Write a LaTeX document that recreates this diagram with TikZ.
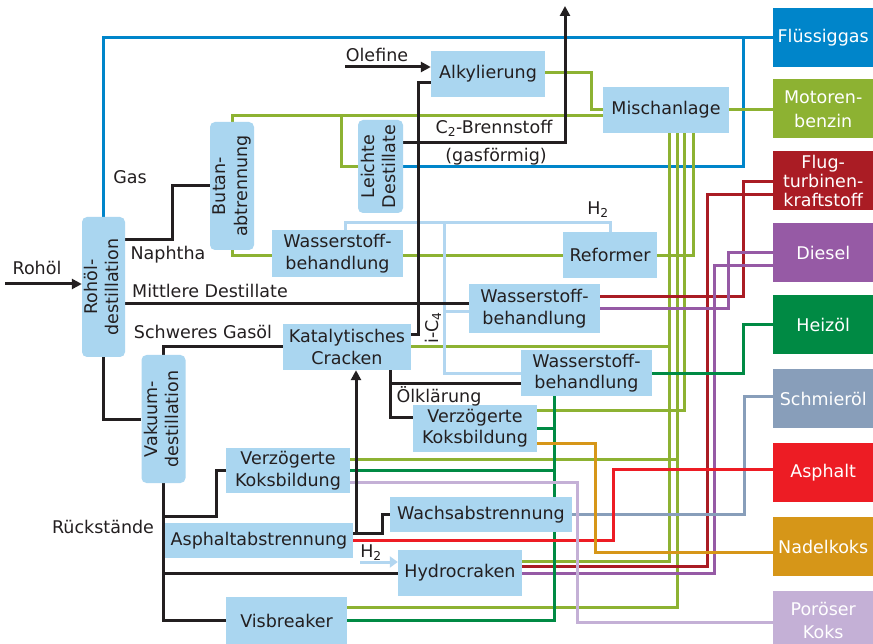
\documentclass[tikz,border=0pt]{standalone}
\usepackage{fontspec}
\setmainfont{DejaVu Sans}
\usetikzlibrary{arrows.meta,backgrounds}

\definecolor{procfill}{RGB}{170,214,240}
\definecolor{hydrogen}{RGB}{178,214,240}
\definecolor{ink}{RGB}{35,31,32}
\definecolor{cLPG}{RGB}{0,133,202}
\definecolor{cPetrol}{RGB}{141,178,50}
\definecolor{cJet}{RGB}{170,28,36}
\definecolor{cDiesel}{RGB}{150,90,165}
\definecolor{cFuelOil}{RGB}{0,138,68}
\definecolor{cLube}{RGB}{136,158,186}
\definecolor{cAsphalt}{RGB}{237,28,36}
\definecolor{cNeedle}{RGB}{214,150,24}
\definecolor{cPorous}{RGB}{196,176,214}

% two-line label set upright along a vertical box
\newcommand\uptext[2]{\rotatebox{90}{\begin{tabular}{@{}c@{}}#1\\#2\end{tabular}}}

\begin{document}
\begin{tikzpicture}[x=1pt,y=-1pt,
  font=\fontsize{17.5}{21.5}\selectfont,
  proc/.style={fill=procfill, text=ink, inner sep=0pt, align=center},
  vproc/.style={proc, rounded corners=5pt},
  prod/.style={anchor=west, text=white, inner sep=0pt, align=center,
               minimum width=100pt, minimum height=59pt},
  lbl/.style={text=ink, inner sep=0pt},
  pipe/.style={line width=3pt},
  bl/.style={pipe, draw=ink},
  hl/.style={pipe, draw=hydrogen},
  tip/.style={-{Triangle[length=10pt,width=10pt]}},
]
\useasboundingbox (0,0) rectangle (873,644);

% ---------- product boxes ----------
\node[prod, fill=cLPG]     (fl) at (773,38)    {Flüssiggas};
\node[prod, fill=cPetrol, font=\fontsize{17.5}{23.5}\selectfont] (mb) at (773,109) {Motoren-\\benzin};
\node[prod, fill=cJet, font=\fontsize{17.5}{19}\selectfont] (ft) at (773,181) {Flug-\\turbinen-\\kraftstoff};
\node[prod, fill=cDiesel]  (di) at (773,252.5) {Diesel};
\node[prod, fill=cFuelOil] (he) at (773,324.5) {Heizöl};
\node[prod, fill=cLube]    (sc) at (773,398.5) {Schmieröl};
\node[prod, fill=cAsphalt] (as) at (773,472.5) {Asphalt};
\node[prod, fill=cNeedle]  (na) at (773,546.5) {Nadelkoks};
\node[prod, fill=cPorous, font=\fontsize{17.5}{23}\selectfont] (po) at (773,620.5) {Poröser\\Koks};

% ---------- process units ----------
\node[vproc, minimum width=43pt, minimum height=140pt] (rohoel) at (103.5,287) {\uptext{Rohöl-}{destillation}};
\node[vproc, minimum width=44pt, minimum height=128pt] (butan)  at (232,186)   {\uptext{Butan-}{abtrennung}};
\node[vproc, minimum width=45pt, minimum height=93pt]  (leicht) at (380.5,166.5) {\uptext{Leichte}{Destillate}};
\node[vproc, minimum width=44pt, minimum height=128pt] (vakuum) at (163.5,419) {\uptext{Vakuum-}{destillation}};

\node[proc, minimum width=114pt, minimum height=46pt] (alky)     at (488,74)      {Alkylierung};
\node[proc, minimum width=126pt, minimum height=46pt] (misch)    at (666,110)     {Mischanlage};
\node[proc, minimum width=131pt, minimum height=47pt] (wb1)      at (337.5,253.5) {Wasserstoff-\\behandlung};
\node[proc, minimum width=94pt,  minimum height=46pt] (reformer) at (610,255)     {Reformer};
\node[proc, minimum width=131pt, minimum height=49pt] (wb2)      at (534.5,308.5) {Wasserstoff-\\behandlung};
\node[proc, minimum width=128pt, minimum height=46pt] (kat)      at (347,347)     {Katalytisches\\Cracken};
\node[proc, minimum width=131pt, minimum height=46pt] (wb3)      at (586.5,373)   {Wasserstoff-\\behandlung};
\node[proc, minimum width=124pt, minimum height=47pt] (vk1)      at (475,428)     {Verzögerte\\Koksbildung};
\node[proc, minimum width=124pt, minimum height=45pt] (vk2)      at (288,470.5)   {Verzögerte\\Koksbildung};
\node[proc, minimum width=188pt, minimum height=35pt] (asph)     at (259,540.5)   {Asphaltabstrennung};
\node[proc, minimum width=182pt, minimum height=35pt] (wachs)    at (481,514.5)   {Wachsabstrennung};
\node[proc, minimum width=124pt, minimum height=46pt] (hydro)    at (460,573)     {Hydrocraken};
\node[proc, minimum width=121pt, minimum height=47pt] (visb)     at (286.5,620.5) {Visbreaker};

% ---------- stream labels ----------
\node[lbl] (l-rohoel) at (37,268)  {Rohöl};
\node[lbl] (l-gas)    at (130,177) {Gas};
\node[lbl] (l-naph)   at (168,255) {Naphtha};
\node[lbl] (l-mitt)   at (210,291) {Mittlere Destillate};
\node[lbl] (l-schw)   at (203,332) {Schweres Gasöl};
\node[lbl] (l-olef)   at (377,55)  {Olefine};
\node[lbl] (l-c2)     at (494,128) {C\textsubscript{2}-Brennstoff};
\node[lbl] (l-gasf)   at (496,157) {(gasförmig)};
\node[lbl] (l-h2a)    at (598,210) {H\textsubscript{2}};
\node[lbl, rotate=90] (l-ic4) at (433,328) {i-C\textsubscript{4}};
\node[lbl] (l-oel)    at (439,396) {Ölklärung};
\node[lbl] (l-rueck)  at (103,527) {Rückstände};
\node[lbl] (l-h2b)    at (371,553) {H\textsubscript{2}};

\coordinate (feed) at (5,284);
\coordinate (olef) at (345,67);
\coordinate (fuel) at (565,6);
\coordinate (h2in) at (360,562);

\begin{scope}[on background layer]
\fill[white] (0,0) rectangle (873,644);

% liquefied gas
\draw[pipe, cLPG] (rohoel.north) |- (fl.west);
\draw[pipe, cLPG] (leicht.east |- 0,167) -| (743,38);

% motor petrol
\draw[pipe, cPetrol] (alky.east |- 0,73) -| (591,110) -- (misch.west);
\draw[pipe, cPetrol] (butan.north) |- (misch.west |- 0,116);
\draw[pipe, cPetrol] (341,116) |- (leicht.west |- 0,167);
\draw[pipe, cPetrol] (misch.east) -- (misch.east -| mb.west);
\draw[pipe, cPetrol] (butan.south) |- (wb1.west |- 0,256);
\draw[pipe, cPetrol] (wb1.east |- 0,256) -- (reformer.west |- 0,256);
\draw[pipe, cPetrol] (reformer.east |- 0,256) -| (misch.south -| 693,0);
\draw[pipe, cPetrol] (hydro.east |- 0,561) -| (misch.south -| 669,0);
\draw[pipe, cPetrol] (kat.east |- 0,347) -- (669,347);
\draw[pipe, cPetrol] (vk1.east |- 0,410) -| (misch.south -| 684,0);
\draw[pipe, cPetrol] (visb.east |- 0,607) -| (misch.south -| 677,0);
\draw[pipe, cPetrol] (vk2.east |- 0,459) -- (677,459);

% jet fuel
\draw[pipe, cJet] (wb2.east |- 0,297) -| (743,182) -- (ft.west |- 0,182);
\draw[pipe, cJet] (hydro.east |- 0,566) -| (707,195) -- (ft.west |- 0,195);

% diesel
\draw[pipe, cDiesel] (wb2.east |- 0,309) -| (728,253) -- (di.west |- 0,253);
\draw[pipe, cDiesel] (hydro.east |- 0,573) -| (714,266) -- (di.west |- 0,266);

% fuel oil
\draw[pipe, cFuelOil] (wb3.east) -| (743,325) -- (he.west |- 0,325);
\draw[pipe, cFuelOil] (wb3.south -| 554,0) |- (visb.east |- 0,620);
\draw[pipe, cFuelOil] (vk1.east |- 0,428) -- (554,428);
\draw[pipe, cFuelOil] (vk2.east |- 0,470) -- (554,470);

% lube oil, asphalt, cokes
\draw[pipe, cLube] (wachs.east) -| (744,396) -- (sc.west |- 0,396);
\draw[pipe, cAsphalt] (asph.east |- 0,540) -| (613,469) -- (as.west |- 0,469);
\draw[pipe, cNeedle] (vk1.east |- 0,443) -| (595,552) -- (na.west |- 0,552);
\draw[pipe, cPorous] (vk2.east |- 0,482) -| (577,622) -- (po.west |- 0,622);

% hydrogen
\draw[hl] (wb1.north -| 345,0) |- (reformer.north |- 0,223) -- (reformer.north);
\draw[hl] (444,223) |- (wb3.west);
\draw[hl] (444,312) -- (wb2.west |- 0,312);
\draw[hl, -{Triangle[length=8pt,width=11pt]}] (h2in) -- (hydro.west |- h2in);

% main process streams
\draw[bl, tip] (feed) -- (rohoel.west |- feed);
\draw[bl] (rohoel.east |- 0,240) -| (172,186) -- (butan.west |- 0,186);
\draw[bl] (rohoel.east |- 0,304) -- (wb2.west |- 0,304);
\draw[bl] (vakuum.north) |- (kat.west);
\draw[bl] (rohoel.south) |- (vakuum.west);
\draw[bl] (vakuum.south) |- (visb.west);
\draw[bl] (vakuum.south |- 0,516) -| (216,470.5) -- (vk2.west);
\draw[bl] (vakuum.south |- 0,573) -- (hydro.west);
\draw[bl] (kat.east |- 0,335) -| (418,83) -- (alky.west |- 0,83);
\draw[bl, tip] (leicht.east |- 0,143) -| (fuel);
\draw[bl, tip] (olef) -- (alky.west |- olef);
\draw[bl] (kat.south -| 390,0) |- (wb3.west |- 0,383);
\draw[bl] (kat.south -| 390,0) |- (vk1.west |- 0,417);
\draw[bl] (asph.east |- 0,533) -| (382,514) -- (wachs.west |- 0,514);
\draw[bl, tip] (356,533) -- (kat.south -| 356,0);
\end{scope}
\end{tikzpicture}
\end{document}
